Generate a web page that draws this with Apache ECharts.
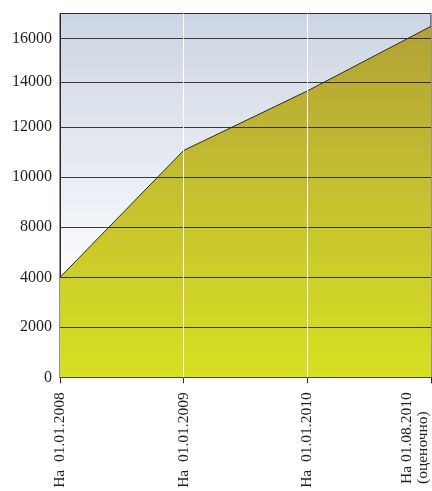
<!DOCTYPE html>
<html>
<head>
<meta charset="utf-8">
<script src="https://cdn.jsdelivr.net/npm/echarts@6/dist/echarts.min.js"></script>
<style>
  html, body { margin: 0; padding: 0; background: #ffffff; }
  #chart { width: 432px; height: 491px; }
</style>
</head>
<body>
<div id="chart"></div>
<script>
// Dates on the horizontal axis
const categories = ['На  01.01.2008', 'На  01.01.2009', 'На  01.01.2010', 'На 01.08.2010\n(оценочно)'];
// Amounts at each date
const values = [4000, 11050, 13600, 16550];
// Tick labels of the vertical axis
const tickLabels = [0, 2000, 4000, 8000, 10000, 12000, 14000, 16000];

// The vertical scale has uneven gridline spacing: every tick label owns a step
// on the axis, and amounts are placed piecewise-linearly between those steps.
const tickSteps = [0, 1.006, 2, 3.012, 4.012, 5.012, 5.906, 6.78];
const axisTop = 7.276;

function toAxis(v) {
  const n = tickLabels.length;
  let i = 0;
  while (i < n - 2 && v > tickLabels[i + 1]) i++;
  const t = (v - tickLabels[i]) / (tickLabels[i + 1] - tickLabels[i]);
  return tickSteps[i] + t * (tickSteps[i + 1] - tickSteps[i]);
}

function stepLabel(s) {
  for (let i = 0; i < tickSteps.length; i++) {
    if (Math.abs(tickSteps[i] - s) < 1e-6) return String(tickLabels[i]);
  }
  return '';
}

const FONT = '"Liberation Serif", "DejaVu Serif", serif';
const TEXT = '#231f20';

const chart = echarts.init(document.getElementById('chart'), null, { renderer: 'canvas' });

chart.setOption({
  animation: false,
  backgroundColor: '#ffffff',
  grid: {
    left: 60,
    right: 1,
    top: 13.5,
    bottom: 113.7,
    show: true,
    borderColor: '#2b2b2b',
    borderWidth: 1,
    backgroundColor: new echarts.graphic.LinearGradient(0, 0, 0, 1, [
      { offset: 0, color: '#ccd5e3' },
      { offset: 0.45, color: '#e9edf4' },
      { offset: 0.72, color: '#fbfcfd' },
      { offset: 1, color: '#ffffff' }
    ])
  },
  xAxis: {
    type: 'category',
    boundaryGap: false,
    data: categories.map((c, i) => i === categories.length - 1
      ? { value: c, textStyle: { verticalAlign: 'bottom' } }
      : c),
    axisLine: { show: true, lineStyle: { color: '#2b2b2b', width: 1 } },
    axisTick: { show: true, length: 6, alignWithLabel: true, lineStyle: { color: '#2b2b2b' } },
    splitLine: { show: false },
    axisLabel: {
      rotate: 90,
      margin: 15,
      interval: 0,
      color: TEXT,
      fontFamily: FONT,
      fontSize: 15.5,
      lineHeight: 16,
      formatter: function (v) {
        if (v.indexOf('\n') >= 0) {
          return v.split('\n').map(s => '{l|' + s + '}').join('\n');
        }
        return v;
      },
      rich: {
        l: { align: 'left', fontFamily: FONT, fontSize: 15.5, lineHeight: 16, color: TEXT }
      }
    }
  },
  yAxis: {
    type: 'value',
    min: 0,
    max: axisTop,
    axisLine: { show: true, lineStyle: { color: '#2b2b2b', width: 1 } },
    axisTick: { show: false, customValues: tickSteps },
    splitLine: { show: false },
    axisLabel: {
      customValues: tickSteps,
      margin: 8,
      color: TEXT,
      fontFamily: FONT,
      fontSize: 16,
      formatter: stepLabel
    }
  },
  series: [{
    type: 'line',
    data: values.map(toAxis),
    symbol: 'none',
    lineStyle: { color: '#2e2c18', width: 1 },
    areaStyle: {
      opacity: 1,
      color: new echarts.graphic.LinearGradient(0, 0, 0, 1, [
        { offset: 0, color: '#b2a236' },
        { offset: 0.5, color: '#c6c22f' },
        { offset: 1, color: '#d8e021' }
      ])
    },
    markLine: {
      silent: true,
      symbol: 'none',
      label: { show: false },
      animation: false,
      data: tickSteps.slice(1).map(s => ({
        yAxis: s,
        lineStyle: { color: '#262626', width: 1, type: 'solid', opacity: 0.9 }
      })).concat([1, 2].map(i => [
        { xAxis: categories[i], yAxis: 0, lineStyle: { color: '#ffffff', width: 1, type: 'solid' } },
        { xAxis: categories[i], yAxis: axisTop }
      ]))
    }
  }]
});
</script>
</body>
</html>
